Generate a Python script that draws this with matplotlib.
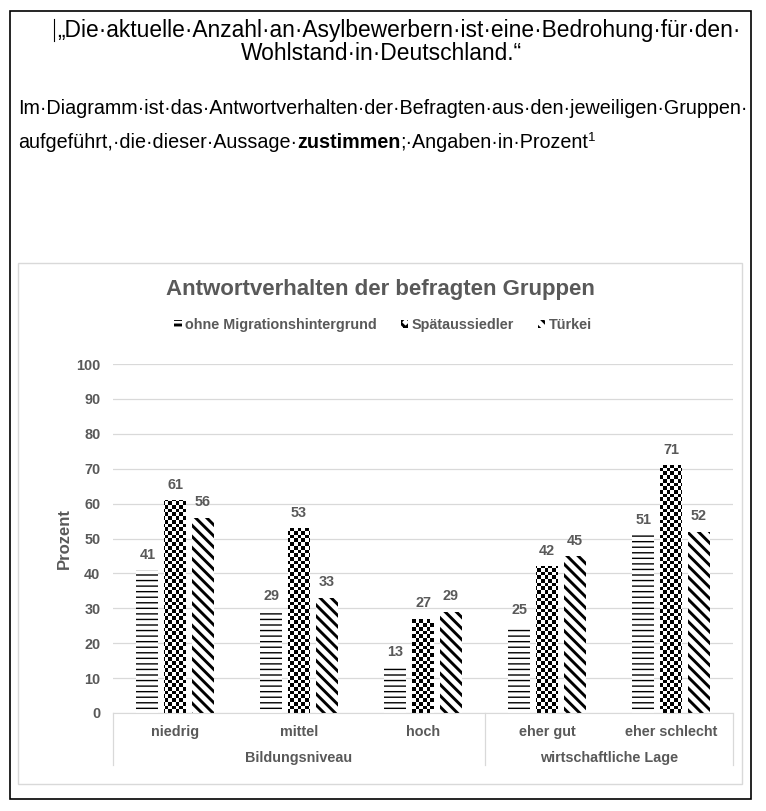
import numpy as np
import matplotlib
matplotlib.use("Agg")
import matplotlib.pyplot as plt
from matplotlib.patches import Rectangle
from matplotlib.lines import Line2D

plt.rcParams["font.family"] = ["Liberation Sans", "DejaVu Sans"]

# data
categories = ["niedrig", "mittel", "hoch", "eher gut", "eher schlecht"]
groups = ["Bildungsniveau", "wirtschaftliche Lage"]
group_sizes = [3, 2]
series_names = ["ohne Migrationshintergrund", "Spätaussiedler", "Türkei"]
ohne_migration = [41, 29, 13, 25, 51]
spaetaussiedler = [61, 53, 27, 42, 71]
tuerkei = [56, 33, 29, 45, 52]
y_ticks = list(range(0, 101, 10))

GRAY = "#595959"
LIGHT = "#d9d9d9"
W, H = 766, 811
FS = 10.4  # chart label size

fig = plt.figure(figsize=(W / 100, H / 100), dpi=100)


def fx(px):
    return px / W


def fy(py):
    return 1 - py / H


def hatch_lw(bars, lw):
    for b in bars:
        if hasattr(b, "set_hatch_linewidth"):
            b.set_hatch_linewidth(lw)


# outer document frame and chart panel
fig.patches.append(Rectangle((fx(10), fy(799)), fx(751) - fx(10), fy(11) - fy(799),
                             transform=fig.transFigure, fill=False, ec="black", lw=1.2))
fig.patches.append(Rectangle((fx(18), fy(784)), fx(742) - fx(18), fy(263) - fy(784),
                             transform=fig.transFigure, fill=False, ec=LIGHT, lw=1.0))
# text cursor
fig.add_artist(Line2D([fx(54), fx(54)], [fy(19), fy(41)], transform=fig.transFigure,
                      color="black", lw=0.8))

# header text
fig.text(fx(399), fy(30), "„Die·aktuelle·Anzahl·an·Asylbewerbern·ist·eine·Bedrohung·für·den·",
         ha="center", va="center", fontsize=16.4)
fig.text(fx(381), fy(54), "Wohlstand·in·Deutschland.“", ha="center", va="center", fontsize=16.4)
fig.text(fx(18), fy(108), "Im·Diagramm·ist·das·Antwortverhalten·der·Befragten·aus·den·jeweiligen·Gruppen·",
         ha="left", va="center", fontsize=14.2)

renderer = fig.canvas.get_renderer()
parts = [("aufgeführt,·die·dieser·Aussage·", "normal", 14.2, 0),
         ("zustimmen", "bold", 14.2, 0),
         (";·Angaben·in·Prozent", "normal", 14.2, 0),
         ("1", "normal", 9.5, 5)]
x_cur = 18
for s, wgt, fs, dy in parts:
    t = fig.text(fx(x_cur), fy(143 - dy), s, ha="left", va="center", fontsize=fs, fontweight=wgt)
    bb = t.get_window_extent(renderer)
    x_cur += bb.width

# chart title
fig.text(fx(380), fy(289), "Antwortverhalten der befragten Gruppen", ha="center", va="center",
         fontsize=16, fontweight="bold", color=GRAY)

ax = fig.add_axes([fx(113), fy(713), fx(733) - fx(113), fy(364) - fy(713)])
x = np.arange(len(categories))
bw = 0.177
off = 0.222

plt.rcParams["hatch.linewidth"] = 1.0
b1 = ax.bar(x - off, ohne_migration, bw, facecolor="white", edgecolor="black", lw=0,
            hatch="---", zorder=3)
hatch_lw(b1, 1.0)
b2 = ax.bar(x, spaetaussiedler, bw, facecolor="white", edgecolor="none", lw=0, zorder=3)
plt.rcParams["hatch.linewidth"] = 2.1
b3 = ax.bar(x + off, tuerkei, bw, facecolor="white", edgecolor="black", lw=0,
            hatch="\\\\\\", zorder=3)
hatch_lw(b3, 2.1)

# checker pattern clipped to the Spätaussiedler bars
ax.set_xlim(-0.5, len(categories) - 0.5)
ax.set_ylim(0, 100)
nr, nc = 94, 168
checker = (np.add.outer(np.arange(nr), np.arange(nc)) % 2).astype(float)
for bar in b2:
    im = ax.imshow(checker, cmap="gray", extent=(-0.5, len(categories) - 0.5, 0, 100),
                   aspect="auto", interpolation="nearest", zorder=3.5)
    im.set_clip_path(bar)
ax.set_xlim(-0.5, len(categories) - 0.5)
ax.set_ylim(0, 100)

for bars, vals in [(b1, ohne_migration), (b2, spaetaussiedler), (b3, tuerkei)]:
    for bar, v in zip(bars, vals):
        ax.annotate(str(v), (bar.get_x() + bar.get_width() / 2, v), xytext=(0, 6),
                    textcoords="offset points", ha="center", va="bottom",
                    fontsize=FS, fontweight="bold", color=GRAY)

ax.set_yticks(y_ticks)
ax.tick_params(axis="y", length=0, pad=9, labelsize=FS, labelcolor=GRAY)
for lab in ax.get_yticklabels():
    lab.set_fontweight("bold")
ax.grid(axis="y", color=LIGHT, lw=0.9, zorder=0)
ax.set_axisbelow(True)
ax.set_xticks([])
for s in ["top", "right", "left"]:
    ax.spines[s].set_visible(False)
ax.spines["bottom"].set_color(LIGHT)
ax.spines["bottom"].set_zorder(4)
ax.set_ylabel("Prozent", fontsize=12, fontweight="bold", color=GRAY, labelpad=3)

# category and group labels below the axis
tr = ax.get_xaxis_transform()
for i, c in enumerate(categories):
    ax.text(i, -19 / 349, c, transform=tr, ha="center", va="center", fontsize=FS,
            fontweight="bold", color=GRAY)
start = -0.5
bounds = [start]
for g, n in zip(groups, group_sizes):
    ax.text(start + n / 2, -45 / 349, g, transform=tr, ha="center", va="center", fontsize=FS,
            fontweight="bold", color=GRAY)
    start += n
    bounds.append(start)
for b in bounds:
    ax.add_line(Line2D([b, b], [0, -52 / 349], transform=tr, color=LIGHT, lw=0.9, clip_on=False))

# legend
handles = [Rectangle((0, 0), 1, 1, facecolor="white", edgecolor="black", lw=0, hatch="---"),
           Rectangle((0, 0), 1, 1, facecolor="white", edgecolor="black", lw=0, hatch="xxx"),
           Rectangle((0, 0), 1, 1, facecolor="white", edgecolor="black", lw=0, hatch="\\\\\\")]
leg = fig.legend(handles, series_names, loc="center", bbox_to_anchor=(fx(383), fy(325)), ncol=3,
                 frameon=False, handlelength=0.5, handleheight=0.5, columnspacing=1.65,
                 handletextpad=0.25, prop={"size": FS, "weight": "bold"})
for t in leg.get_texts():
    t.set_color(GRAY)

fig.savefig("out.png", dpi=100)
